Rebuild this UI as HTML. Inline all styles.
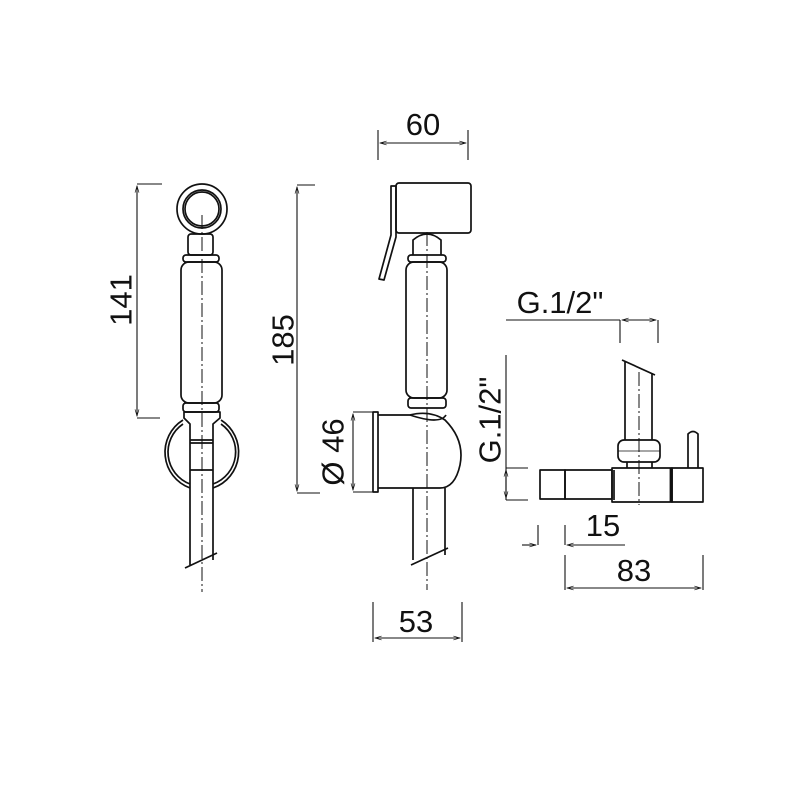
<!DOCTYPE html>
<html><head><meta charset="utf-8"><style>
html,body{margin:0;padding:0;background:#fff}
svg{display:block}
text{font-family:"Liberation Sans",sans-serif;fill:#111}
</style></head><body>
<svg width="800" height="800" viewBox="0 0 800 800" xmlns="http://www.w3.org/2000/svg">
<defs>
<marker id="a" viewBox="0 0 10 10" refX="10" refY="5" markerWidth="8" markerHeight="6" orient="auto-start-reverse"><path d="M0,2 L10,5 L0,8" fill="none" stroke="#111" stroke-width="1"/></marker>
</defs>
<g fill="none" stroke="#111" stroke-width="1.7" stroke-linejoin="round">
<!-- LEFT VIEW -->
<line x1="137" y1="184" x2="162" y2="184" stroke-width="1.1"/>
<line x1="137" y1="418" x2="160" y2="418" stroke-width="1.1"/>
<line x1="137" y1="186" x2="137" y2="416" stroke-width="1.1" marker-start="url(#a)" marker-end="url(#a)"/>
<circle cx="202" cy="209" r="25"/>
<circle cx="202" cy="209" r="19"/>
<circle cx="202" cy="209" r="17"/>
<rect x="188" y="234" width="25" height="21" rx="3"/>
<rect x="183" y="255" width="36" height="7" rx="3"/>
<rect x="181" y="262" width="41" height="141" rx="8"/>
<rect x="183" y="403" width="36" height="9" rx="3"/>
<path d="M184,412 L220,412 L220,418 L213,424 L213,560 M184,412 L184,418 L190,424 L190,565"/>
<path d="M183,420 A38,38 0 0 0 190,488 M183,424 A34,34 0 0 0 190,484"/>
<path d="M221,420 A38,38 0 0 1 213,488 M221,424 A34,34 0 0 1 213,484"/>
<line x1="190" y1="440" x2="213" y2="440"/>
<line x1="190" y1="443" x2="213" y2="443"/>
<line x1="190" y1="470" x2="213" y2="470"/>
<line x1="185" y1="568" x2="217" y2="553"/>
<line x1="202" y1="215" x2="202" y2="592" stroke-width="1" stroke-dasharray="14,3,2,3"/>
<!-- MIDDLE VIEW -->
<line x1="378" y1="130" x2="378" y2="160" stroke-width="1.1"/>
<line x1="468" y1="130" x2="468" y2="160" stroke-width="1.1"/>
<line x1="380" y1="143" x2="466" y2="143" stroke-width="1.1" marker-start="url(#a)" marker-end="url(#a)"/>
<line x1="297" y1="185" x2="315" y2="185" stroke-width="1.1"/>
<line x1="297" y1="493" x2="320" y2="493" stroke-width="1.1"/>
<line x1="297" y1="187" x2="297" y2="491" stroke-width="1.1" marker-start="url(#a)" marker-end="url(#a)"/>
<rect x="396" y="183" width="75" height="50" rx="3"/>
<path d="M391,186 L396,186 L396,237 L384,280 L379,279 L391,235 Z"/>
<path d="M413,255 L413,240 Q427,228 441,240 L441,255"/>
<rect x="408" y="255" width="38" height="7" rx="3"/>
<rect x="406" y="262" width="41" height="136" rx="8"/>
<rect x="408" y="398" width="38" height="10" rx="3"/>
<line x1="353" y1="412" x2="375" y2="412" stroke-width="1.1"/>
<line x1="353" y1="492" x2="375" y2="492" stroke-width="1.1"/>
<line x1="353" y1="414" x2="353" y2="490" stroke-width="1.1" marker-start="url(#a)" marker-end="url(#a)"/>
<rect x="373" y="412" width="5" height="80"/>
<path d="M378,415 L410,415 Q430,410 445,420 Q465,440 460,465 Q455,488 440,488 L378,488"/>
<path d="M410,415 Q440,425 446,415"/>
<path d="M413,488 L413,560 M445,488 L445,555"/>
<line x1="411" y1="565" x2="448" y2="548"/>
<line x1="427" y1="232" x2="427" y2="590" stroke-width="1" stroke-dasharray="14,3,2,3"/>
<line x1="373" y1="602" x2="373" y2="642" stroke-width="1.1"/>
<line x1="462" y1="602" x2="462" y2="642" stroke-width="1.1"/>
<line x1="375" y1="638" x2="460" y2="638" stroke-width="1.1" marker-start="url(#a)" marker-end="url(#a)"/>
<!-- RIGHT VIEW -->
<line x1="506" y1="320" x2="620" y2="320" stroke-width="1.1"/>
<line x1="620" y1="320" x2="620" y2="343" stroke-width="1.1"/>
<line x1="658" y1="320" x2="658" y2="343" stroke-width="1.1"/>
<line x1="622" y1="320" x2="656" y2="320" stroke-width="1.1" marker-start="url(#a)" marker-end="url(#a)"/>
<line x1="506" y1="355" x2="506" y2="500" stroke-width="1.1"/>
<line x1="506" y1="468" x2="528" y2="468" stroke-width="1.1"/>
<line x1="506" y1="500" x2="528" y2="500" stroke-width="1.1"/>
<line x1="506" y1="470" x2="506" y2="498" stroke-width="1.1" marker-start="url(#a)" marker-end="url(#a)"/>
<path d="M625,362 L625,440 M652,373 L652,440"/>
<line x1="622" y1="360" x2="655" y2="375"/>
<rect x="618" y="440" width="42" height="22" rx="6"/>
<line x1="618" y1="451" x2="660" y2="451" stroke-width="0.8"/>
<path d="M627,462 L627,468 M652,462 L652,468"/>
<rect x="612" y="468" width="60" height="34"/>
<rect x="672" y="468" width="31" height="34"/>
<line x1="671" y1="468" x2="671" y2="502" stroke-width="2.8"/>
<path d="M688,468 L688,434 Q693,429 698,434 L698,468"/>
<rect x="540" y="470" width="25" height="29"/>
<rect x="565" y="470" width="47" height="29"/>
<line x1="614" y1="470" x2="614" y2="500"/>
<line x1="639" y1="372" x2="639" y2="505" stroke-width="1" stroke-dasharray="14,3,2,3"/>
<line x1="538" y1="525" x2="538" y2="545" stroke-width="1.1"/>
<line x1="565" y1="525" x2="565" y2="545" stroke-width="1.1"/>
<line x1="522" y1="545" x2="536" y2="545" stroke-width="1.1" marker-end="url(#a)"/>
<line x1="567" y1="545" x2="625" y2="545" stroke-width="1.1" marker-start="url(#a)"/>
<line x1="565" y1="555" x2="565" y2="590" stroke-width="1.1"/>
<line x1="703" y1="555" x2="703" y2="590" stroke-width="1.1"/>
<line x1="567" y1="588" x2="701" y2="588" stroke-width="1.1" marker-start="url(#a)" marker-end="url(#a)"/>
</g>
<g font-size="31">
<text x="121" y="300" text-anchor="middle" dominant-baseline="central" transform="rotate(-90 121 300)">141</text>
<text x="423" y="135" text-anchor="middle">60</text>
<text x="283" y="340" text-anchor="middle" dominant-baseline="central" transform="rotate(-90 283 340)">185</text>
<text x="333" y="452" text-anchor="middle" dominant-baseline="central" transform="rotate(-90 333 452)">Ø 46</text>
<text x="416" y="632" text-anchor="middle">53</text>
<text x="560" y="313" text-anchor="middle">G.1/2"</text>
<text x="490" y="420" text-anchor="middle" dominant-baseline="central" transform="rotate(-90 490 420)">G.1/2"</text>
<text x="603" y="536" text-anchor="middle">15</text>
<text x="634" y="581" text-anchor="middle">83</text>
</g>
</svg>
</body></html>
